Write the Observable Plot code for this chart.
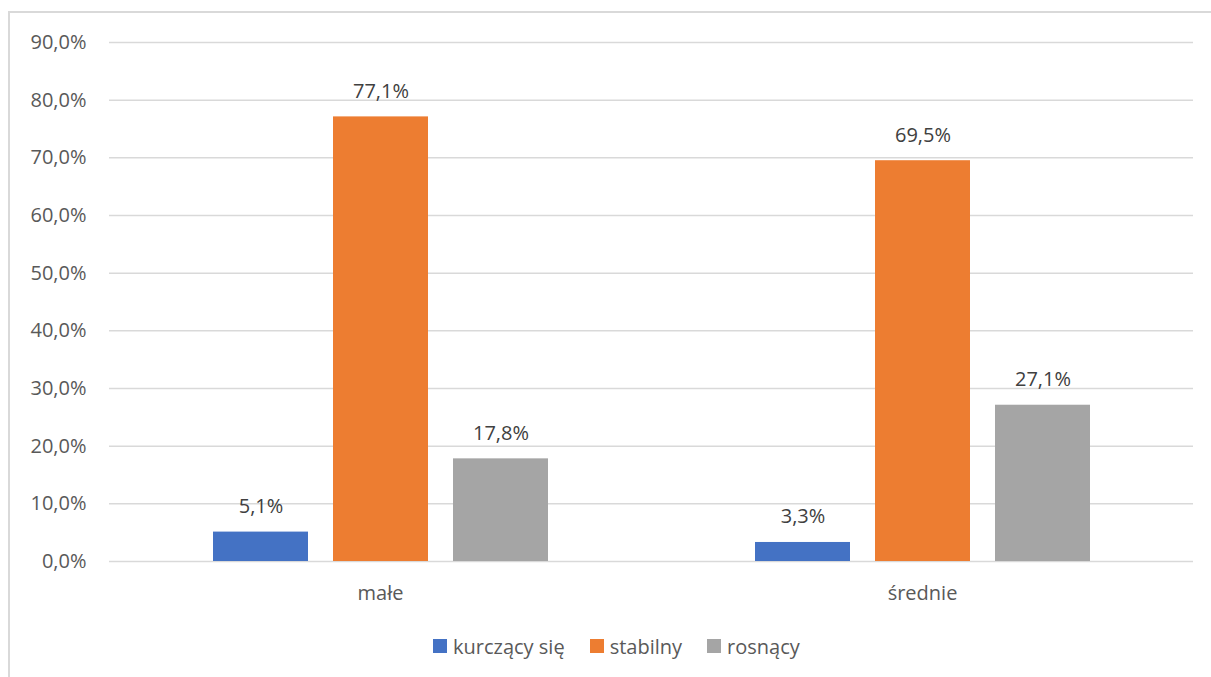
<!DOCTYPE html>
<html>
<head>
<meta charset="utf-8">
<script src="https://cdn.jsdelivr.net/npm/d3@7"></script>
<script src="https://cdn.jsdelivr.net/npm/@observablehq/plot@0.6"></script>
<style>
  html, body { margin: 0; padding: 0; background: #fff; overflow: hidden; }
  #wrap { position: relative; width: 1211px; height: 677px; font-family: "Open Sans", sans-serif; }
  #frame { position: absolute; left: 8px; top: 11px; width: 1400px; height: 900px; border: 2px solid #d9d9d9; box-sizing: border-box; }
  #chart { position: absolute; left: 0; top: 0; }
  #legend { position: absolute; left: 433px; top: 632px; height: 28px; display: flex; align-items: center; font-size: 20px; color: #595959; }
  .item { display: flex; align-items: center; margin-right: 25px; }
  .swatch { width: 14px; height: 14px; margin-right: 6px; }
</style>
</head>
<body>
<div id="wrap">
  <div id="frame"></div>
  <div id="chart"></div>
  <div id="legend"></div>
</div>
<script>
// Company size groups and the employment trend series
const categories = ["małe", "średnie"];
const series = ["kurczący się", "stabilny", "rosnący"];
const seriesColors = ["#4472C4", "#ED7D31", "#A5A5A5"];

// Share of companies (%) per trend, one array per size group
const maleValues = [5.1, 77.1, 17.8];
const srednieValues = [3.3, 69.5, 27.1];

// Y axis tick values (%)
const yTicks = [0, 10, 20, 30, 40, 50, 60, 70, 80, 90];

const valuesByCategory = [maleValues, srednieValues];
const data = categories.flatMap((c, i) =>
  series.map((s, j) => ({category: c, series: s, value: valuesByCategory[i][j]}))
);

const pct = (v) => v.toFixed(1).replace(".", ",") + "%";

const chart = Plot.plot({
  width: 1211,
  height: 610,
  marginLeft: 109,
  marginRight: 18,
  marginTop: 42,
  marginBottom: 49,
  style: {fontFamily: "'Open Sans', sans-serif", fontSize: "20px", color: "#595959", background: "transparent"},
  fx: {domain: categories, padding: 0, label: null, axis: "bottom", tickSize: 0, tickPadding: 24},
  x: {domain: series, paddingInner: 0.2116, paddingOuter: 0.855, axis: null},
  y: {domain: [0, 90], ticks: yTicks, tickFormat: pct, label: null, tickSize: 0, tickPadding: 23},
  color: {domain: series, range: seriesColors},
  marks: [
    Plot.gridY(yTicks, {stroke: "#d9d9d9", strokeOpacity: 1, strokeWidth: 1.5}),
    Plot.barY(data, {fx: "category", x: "series", y: "value", fill: "series"}),
    Plot.text(data, {
      fx: "category", x: "series", y: "value",
      text: (d) => pct(d.value),
      lineAnchor: "bottom", dy: -19, fill: "#404040", fontSize: 20
    })
  ]
});
document.getElementById("chart").appendChild(chart);

// Legend below the chart
const legend = document.getElementById("legend");
series.forEach((s, i) => {
  const item = document.createElement("div");
  item.className = "item";
  const sw = document.createElement("span");
  sw.className = "swatch";
  sw.style.background = seriesColors[i];
  const label = document.createElement("span");
  label.textContent = s;
  item.appendChild(sw);
  item.appendChild(label);
  legend.appendChild(item);
});
</script>
</body>
</html>
